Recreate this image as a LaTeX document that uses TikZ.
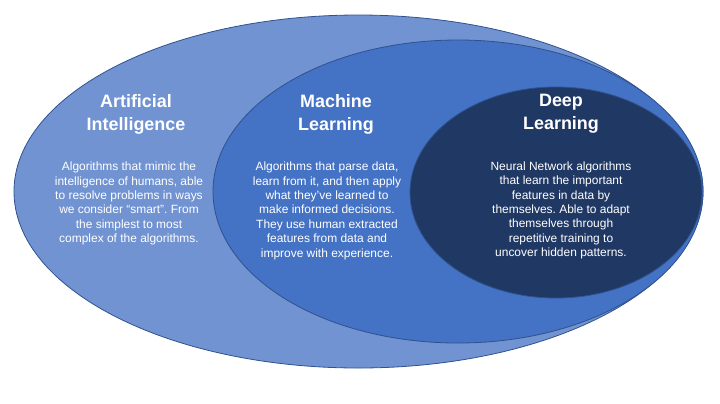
\documentclass[tikz,border=0pt]{standalone}
\usepackage{fontspec}
\setmainfont{Liberation Sans}
\usetikzlibrary{positioning,shapes.geometric}
\definecolor{aiblue}{HTML}{7193D1}
\definecolor{mlblue}{HTML}{4472C4}
\definecolor{dlblue}{HTML}{203864}
\definecolor{rimblue}{HTML}{2F528F}
\frenchspacing

\begin{document}
\begin{tikzpicture}[x=1bp,y=-1bp,node distance=28bp,
 ring/.style={ellipse,draw=rimblue,line width=0.8bp,inner sep=0pt,outer sep=0pt},
 head/.style={text=white,align=center,inner sep=0pt,font=\bfseries\fontsize{18}{23}\selectfont},
 body/.style={text=white,align=center,inner sep=0pt,font=\fontsize{12}{14.4}\selectfont}]
\useasboundingbox (0,0) rectangle (720,403);
\node[ring,fill=aiblue,minimum width=689bp,minimum height=353bp] (ai) at (358.5,191.5) {};
\node[ring,fill=mlblue,minimum width=490bp,minimum height=303bp] (ml) at (458,191.5) {};
\node[ring,fill=dlblue,minimum width=292bp,minimum height=211bp] (dl) at (556,192.5) {};
\node[head] (aihead) at (136,114) {Artificial\\Intelligence};
\node[head] (mlhead) at (336,114) {Machine\\Learning};
\node[head] (dlhead) at (561,114) {Deep\\Learning};
\node[body,below=of aihead,xshift=-7bp] (aitext) {Algorithms that mimic the\\intelligence of humans, able\\to resolve problems in ways\\we consider “smart”. From\\the simplest to most\\complex of the algorithms.};
\node[body,below=of mlhead,xshift=-9bp] (mltext) {Algorithms that parse data,\\learn from it, and then apply\\what they’ve learned to\\make informed decisions.\\They use human extracted\\features from data and\\improve with experience.};
\node[body,below=of dlhead] (dltext) {Neural Network algorithms\\that learn the important\\features in data by\\themselves. Able to adapt\\themselves through\\repetitive training to\\uncover hidden patterns.};
\end{tikzpicture}
\end{document}
